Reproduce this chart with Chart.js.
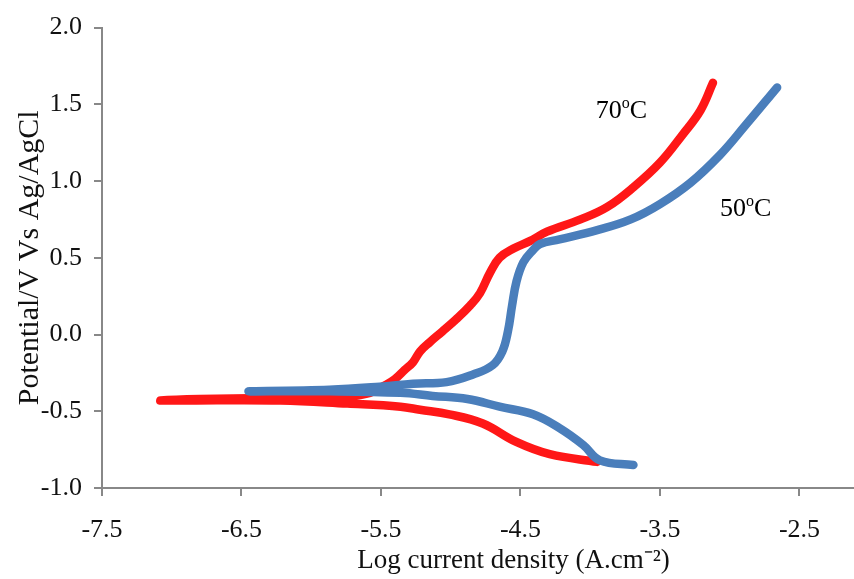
<!DOCTYPE html>
<html>
<head>
<meta charset="utf-8">
<script src="https://cdn.jsdelivr.net/npm/chart.js@4/dist/chart.umd.min.js"></script>
<style>
  body { margin: 0; background: #fff; overflow: hidden; }
  #wrap { width: 854px; height: 579px; overflow: hidden; }
</style>
</head>
<body>
<div id="wrap"><canvas id="chart" width="925" height="579"></canvas></div>
<script>
// axis ticks (plot runs on past the right edge of the picture, like the original)
var xTicks = [-7.5, -6.5, -5.5, -4.5, -3.5, -2.5];
var yTicks = [-1.0, -0.5, 0.0, 0.5, 1.0, 1.5, 2.0];

// 70 C curve, cathodic branch first then anodic branch
var temp70X = [-3.95, -4.29, -4.53, -4.77, -5.01, -5.22, -5.36, -5.74, -6.22, -6.94, -7.08,
               -6.80, -6.08, -5.72, -5.58, -5.47, -5.40, -5.33, -5.27, -5.22, -5.15, -5.06, -4.96,
               -4.86, -4.79, -4.72, -4.65, -4.55, -4.43, -4.31, -4.07, -3.88, -3.69, -3.50,
               -3.34, -3.21, -3.12];
var temp70Y = [-0.83, -0.78, -0.70, -0.58, -0.52, -0.49, -0.47, -0.45, -0.43, -0.43, -0.43,
               -0.42, -0.41, -0.40, -0.38, -0.33, -0.29, -0.23, -0.18, -0.11, -0.05, 0.02, 0.10,
               0.19, 0.27, 0.40, 0.50, 0.56, 0.61, 0.67, 0.75, 0.83, 0.96, 1.12,
               1.30, 1.46, 1.64];

// 50 C curve
var temp50X = [-3.69, -3.93, -4.05, -4.22, -4.41, -4.65, -4.88, -5.13, -5.36, -5.87, -6.45,
               -5.87, -5.51, -5.27, -5.03, -4.84, -4.70, -4.63, -4.59, -4.56, -4.53, -4.48,
               -4.41, -4.36, -4.22, -3.95, -3.71, -3.50, -3.28, -3.07, -2.89, -2.66];
var temp50Y = [-0.85, -0.82, -0.72, -0.61, -0.52, -0.47, -0.42, -0.40, -0.38, -0.37, -0.37,
               -0.36, -0.34, -0.32, -0.31, -0.26, -0.20, -0.11, 0.02, 0.19, 0.34, 0.47,
               0.55, 0.59, 0.62, 0.68, 0.75, 0.85, 0.99, 1.17, 1.36, 1.61];

var seriesNames = ['70', '50'];

function toPoints(xs, ys) {
    return xs.map(function (x, i) { return { x: x, y: ys[i] }; });
}

// curve labels "70oC" / "50oC" with raised o
var curveLabels = {
    id: 'curveLabels',
    afterDatasetsDraw: function (chart) {
        var ctx = chart.ctx;
        var xs = chart.scales.x, ys = chart.scales.y;
        var spots = [[-3.96, 1.41], [-3.07, 0.77]];
        ctx.save();
        ctx.fillStyle = '#000';
        ctx.textBaseline = 'alphabetic';
        seriesNames.forEach(function (name, i) {
            var px = xs.getPixelForValue(spots[i][0]);
            var py = ys.getPixelForValue(spots[i][1]);
            ctx.font = '26px "Liberation Serif"';
            ctx.fillText(name, px, py);
            px += ctx.measureText(name).width;
            ctx.font = '16px "Liberation Serif"';
            ctx.fillText('o', px, py - 10);
            px += ctx.measureText('o').width;
            ctx.font = '26px "Liberation Serif"';
            ctx.fillText('C', px, py);
        });
        ctx.restore();
    }
};

var tickFont = { family: 'Liberation Serif', size: 26 };
var axisGray = '#888888';

new Chart(document.getElementById('chart'), {
    type: 'line',
    data: {
        datasets: [
            {
                label: '50',
                data: toPoints(temp50X, temp50Y),
                borderColor: '#4A7EBB',
                borderWidth: 8.5,
                pointRadius: 0,
                tension: 0.4,
                borderCapStyle: 'round',
                borderJoinStyle: 'round',
                fill: false
            },
            {
                label: '70',
                data: toPoints(temp70X, temp70Y),
                borderColor: '#FF1717',
                borderWidth: 8.5,
                pointRadius: 0,
                tension: 0.4,
                borderCapStyle: 'round',
                borderJoinStyle: 'round',
                fill: false
            }
        ]
    },
    options: {
        responsive: false,
        animation: false,
        layout: { padding: { top: 15, right: 0, left: 0, bottom: 0 } },
        plugins: {
            legend: { display: false },
            tooltip: { enabled: false }
        },
        scales: {
            x: {
                type: 'linear',
                min: -7.5,
                max: -1.6,
                afterBuildTicks: function (axis) {
                    axis.ticks = xTicks.map(function (v) { return { value: v }; });
                },
                afterFit: function (axis) { axis.height = 91; },
                ticks: {
                    font: tickFont,
                    color: '#111',
                    padding: 19,
                    maxRotation: 0,
                    callback: function (v) { return Number(v).toFixed(1); }
                },
                grid: { drawOnChartArea: false, drawTicks: true, tickLength: 8, color: axisGray, lineWidth: 2 },
                border: { color: axisGray, width: 2 },
                title: {
                    display: true,
                    text: 'Log current density (A.cm\u207B\u00B2)',
                    font: { family: 'Liberation Serif', size: 27 },
                    color: '#111',
                    padding: { top: 0, bottom: 2 }
                }
            },
            y: {
                type: 'linear',
                min: -1,
                max: 2,
                afterBuildTicks: function (axis) {
                    axis.ticks = yTicks.map(function (v) { return { value: v }; });
                },
                afterFit: function (axis) { axis.width = 102; },
                ticks: {
                    font: tickFont,
                    color: '#111',
                    padding: 12,
                    callback: function (v) { return Number(v).toFixed(1); }
                },
                grid: { drawOnChartArea: false, drawTicks: true, tickLength: 8, color: axisGray, lineWidth: 2 },
                border: { color: axisGray, width: 2 },
                title: {
                    display: true,
                    text: 'Potential/V Vs Ag/AgCl',
                    font: { family: 'Liberation Serif', size: 30 },
                    color: '#111',
                    padding: { top: 12, bottom: 0 }
                }
            }
        }
    },
    plugins: [curveLabels]
});
</script>
</body>
</html>
